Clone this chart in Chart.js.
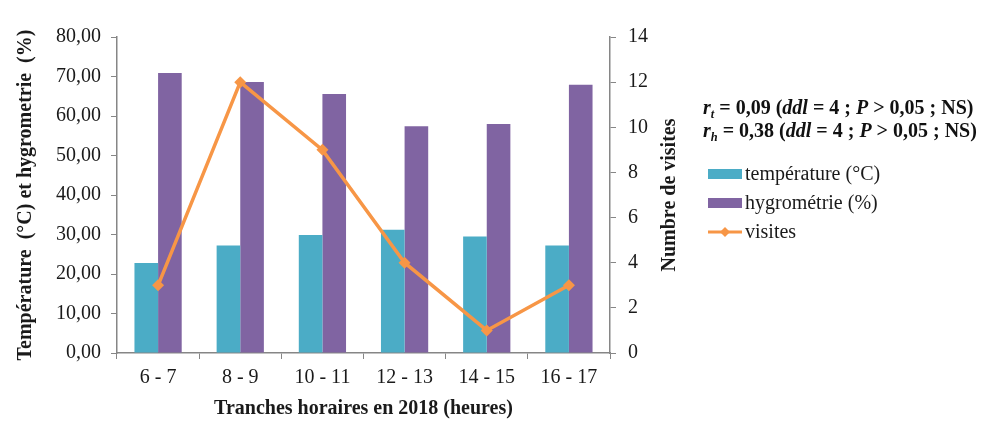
<!DOCTYPE html>
<html>
<head>
<meta charset="utf-8">
<script src="https://cdn.jsdelivr.net/npm/chart.js@4"></script>
<style>
  html, body { margin: 0; padding: 0; background: #ffffff; }
  #wrap { position: relative; width: 997px; height: 421px; }
  #note { position: absolute; left: 703px; top: 96px; font: bold 20px 'Liberation Serif', 'Times New Roman', serif; line-height: 23px; color: #111; white-space: nowrap; }
  #note sub { font-size: 0.62em; vertical-align: -0.3em; line-height: 0; }
</style>
</head>
<body>
<div id="wrap">
  <canvas id="c" width="997" height="421"></canvas>
  <div id="note">
    <i>r<sub>t</sub></i> = 0,09 (<i>ddl</i> = 4 ; <i>P</i> &gt; 0,05 ; NS)<br>
    <i>r<sub>h</sub></i> = 0,38 (<i>ddl</i> = 4 ; <i>P</i> &gt; 0,05 ; NS)
  </div>
</div>
<script>
const categories = ['6 - 7', '8 - 9', '10 - 11', '12 - 13', '14 - 15', '16 - 17'];
const temperature = [22.8, 27.2, 29.9, 31.2, 29.5, 27.2];
const hygrometrie = [70.9, 68.6, 65.6, 57.4, 58.0, 67.9];
const visites = [3, 12, 9, 4, 1, 3];
const seriesNames = ['température (°C)', 'hygrométrie (%)', 'visites'];
const leftTitle = 'Température  (°C) et hygrometrie  (%)';
const rightTitle = 'Numbre de visites';
const xTitle = 'Tranches horaires en 2018 (heures)';

const SERIF = "'Liberation Serif', 'Times New Roman', serif";
const AXIS = '#868686';
const TEXT = '#1a1a1a';

const legendPlugin = {
  id: 'customLegend',
  afterDraw(chart) {
    const ctx = chart.ctx;
    const x0 = 708, rows = [174, 203, 232];
    ctx.save();
    ctx.font = "20px " + SERIF;
    ctx.textBaseline = 'middle';
    chart.data.datasets.forEach((ds, i) => {
      const y = rows[i];
      if (ds.type === 'line') {
        ctx.strokeStyle = ds.borderColor;
        ctx.lineWidth = 3;
        ctx.beginPath(); ctx.moveTo(x0, y); ctx.lineTo(x0 + 34, y); ctx.stroke();
        ctx.fillStyle = ds.borderColor;
        const cx = x0 + 17, r = 5;
        ctx.beginPath(); ctx.moveTo(cx, y - r); ctx.lineTo(cx + r, y); ctx.lineTo(cx, y + r); ctx.lineTo(cx - r, y); ctx.closePath(); ctx.fill();
      } else {
        ctx.fillStyle = ds.backgroundColor;
        ctx.fillRect(x0, y - 5, 34, 10);
      }
      ctx.fillStyle = TEXT;
      ctx.fillText(ds.label, x0 + 37, y + 1);
    });
    // right axis title, reading bottom-to-top
    const s = chart.scales.y1;
    ctx.save();
    ctx.font = "bold 20px " + SERIF;
    ctx.fillStyle = TEXT;
    ctx.textAlign = 'center';
    ctx.textBaseline = 'middle';
    ctx.translate(s.right - 20, (chart.chartArea.top + chart.chartArea.bottom) / 2);
    ctx.rotate(-Math.PI / 2);
    ctx.fillText(rightTitle, 0, 0);
    ctx.restore();
    ctx.restore();
  }
};

new Chart(document.getElementById('c'), {
  data: {
    labels: categories,
    datasets: [
      { type: 'bar', label: seriesNames[0], data: temperature, backgroundColor: '#4BACC6', yAxisID: 'y', order: 2,
        categoryPercentage: 0.575, barPercentage: 1.0 },
      { type: 'bar', label: seriesNames[1], data: hygrometrie, backgroundColor: '#8064A2', yAxisID: 'y', order: 2,
        categoryPercentage: 0.575, barPercentage: 1.0 },
      { type: 'line', label: seriesNames[2], data: visites, borderColor: '#F79646', backgroundColor: '#F79646',
        borderWidth: 3.5, pointStyle: 'rectRot', pointRadius: 6, pointHoverRadius: 6, pointBorderWidth: 0,
        yAxisID: 'y1', order: 0, tension: 0 }
    ]
  },
  options: {
    responsive: false,
    animation: false,
    layout: { padding: { left: 14, right: 307, top: 37, bottom: 0 } },
    plugins: { legend: { display: false }, tooltip: { enabled: false } },
    scales: {
      x: {
        offset: true,
        grid: { offset: true, drawOnChartArea: false, drawTicks: true, tickLength: 6, color: AXIS },
        border: { color: AXIS, width: 1.5 },
        ticks: { font: { family: SERIF, size: 20 }, color: TEXT, padding: 7, maxRotation: 0 },
        title: { display: true, text: xTitle, font: { family: SERIF, size: 20, weight: 'bold' }, color: TEXT, padding: { top: 0, bottom: 0 } }
      },
      y: {
        position: 'left', min: 0, max: 80,
        grid: { drawOnChartArea: false, drawTicks: true, tickLength: 6, color: AXIS },
        border: { color: AXIS, width: 1.5 },
        ticks: { stepSize: 10, font: { family: SERIF, size: 20 }, color: TEXT, padding: 10,
          callback: v => v.toFixed(2).replace('.', ',') },
        title: { display: true, text: leftTitle, font: { family: SERIF, size: 20, weight: 'bold' }, color: TEXT, padding: { top: 0, bottom: 8 } }
      },
      y1: {
        position: 'right', min: 0, max: 14,
        grid: { drawOnChartArea: false, drawTicks: true, tickLength: 6, color: AXIS },
        border: { color: AXIS, width: 1.5 },
        ticks: { stepSize: 2, font: { family: SERIF, size: 20 }, color: TEXT, padding: 12 },
        title: { display: true, text: rightTitle, font: { family: SERIF, size: 20, weight: 'bold' }, color: 'rgba(0,0,0,0)', padding: { top: 6, bottom: 0 } }
      }
    }
  },
  plugins: [legendPlugin]
});
</script>
</body>
</html>
